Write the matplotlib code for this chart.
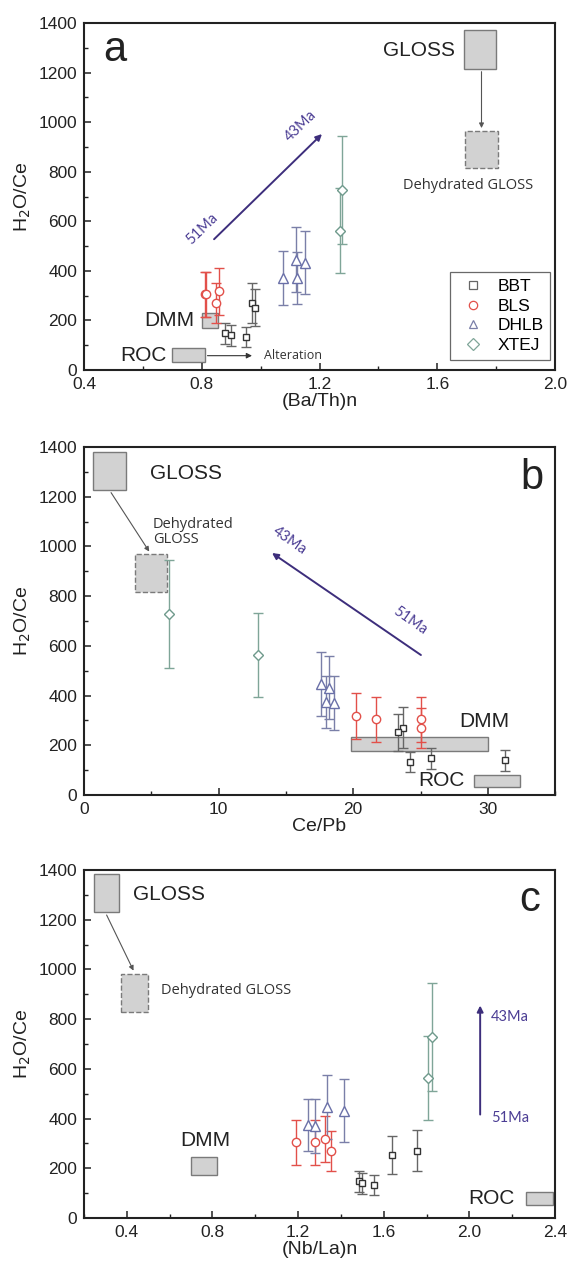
import numpy as np
import matplotlib
matplotlib.use("Agg")
import matplotlib.pyplot as plt
from matplotlib.patches import Rectangle
from matplotlib.lines import Line2D
from matplotlib.ticker import MultipleLocator

plt.rcParams['font.family'] = ['Liberation Sans', 'DejaVu Sans']

# sample groups: H2O/Ce with 1-sigma error and the three trace element ratios
bbt_h2o_ce = [148, 140, 134, 271, 252]
bbt_err = [43, 42, 40, 82, 76]
bbt_ba_th = [0.878, 0.90, 0.95, 0.97, 0.98]
bbt_ce_pb = [25.8, 31.3, 24.2, 23.7, 23.3]
bbt_nb_la = [1.484, 1.497, 1.553, 1.757, 1.636]

bls_h2o_ce = [305, 305, 318, 270]
bls_err = [90, 90, 94, 80]
bls_ba_th = [0.81, 0.815, 0.86, 0.85]
bls_ce_pb = [21.7, 25.0, 20.2, 25.0]
bls_nb_la = [1.19, 1.28, 1.325, 1.355]

dhlb_h2o_ce = [446, 432, 373, 371]
dhlb_err = [130, 127, 105, 108]
dhlb_ba_th = [1.12, 1.15, 1.125, 1.076]
dhlb_ce_pb = [17.6, 18.2, 18.0, 18.6]
dhlb_nb_la = [1.334, 1.412, 1.244, 1.279]

xtej_h2o_ce = [728, 563]
xtej_err = [218, 170]
xtej_ba_th = [1.275, 1.27]
xtej_ce_pb = [6.3, 12.9]
xtej_nb_la = [1.825, 1.805]

# reservoir fields (x0, x1, y0, y1)
fields_a = {'GLOSS': (1.69, 1.80, 1215, 1370), 'dGLOSS': (1.695, 1.805, 815, 965),
            'DMM': (0.80, 0.855, 168, 232), 'ROC': (0.70, 0.81, 33, 90)}
fields_b = {'GLOSS': (0.7, 3.1, 1228, 1380), 'dGLOSS': (3.8, 6.2, 816, 968),
            'DMM': (19.8, 30.0, 177, 232), 'ROC': (29.0, 32.4, 32, 82)}
fields_c = {'GLOSS': (0.245, 0.365, 1230, 1383), 'dGLOSS': (0.375, 0.50, 827, 982),
            'DMM': (0.70, 0.82, 173, 247), 'ROC': (2.265, 2.39, 54, 105)}

groups = [
    ('BBT', 's', '#333333', '#666666', 5, bbt_h2o_ce, bbt_err, bbt_ba_th, bbt_ce_pb, bbt_nb_la),
    ('BLS', 'o', '#e2504a', '#e2504a', 6, bls_h2o_ce, bls_err, bls_ba_th, bls_ce_pb, bls_nb_la),
    ('DHLB', '^', '#6a70a8', '#7a7fa8', 6.5, dhlb_h2o_ce, dhlb_err, dhlb_ba_th, dhlb_ce_pb, dhlb_nb_la),
    ('XTEJ', 'D', '#6f9a8c', '#7fa598', 5, xtej_h2o_ce, xtej_err, xtej_ba_th, xtej_ce_pb, xtej_nb_la),
]

purple = '#3d2e7c'
ma_font = ['Lato', 'DejaVu Sans']
small_font = ['Open Sans', 'DejaVu Sans']

fig = plt.figure(figsize=(5.69, 12.66), dpi=100)


def setup_axes(ax, xlim, xmajor, xminor, xlabel):
    ax.set_xlim(*xlim)
    ax.set_ylim(0, 1400)
    ax.xaxis.set_major_locator(MultipleLocator(xmajor))
    ax.xaxis.set_minor_locator(MultipleLocator(xminor))
    ax.yaxis.set_major_locator(MultipleLocator(200))
    ax.yaxis.set_minor_locator(MultipleLocator(100))
    ax.tick_params(which='major', direction='in', length=5, width=1.1, labelsize=12.5,
                   colors='#222222', pad=5)
    ax.tick_params(which='minor', direction='in', length=3, width=1.0, colors='#222222')
    for s in ax.spines.values():
        s.set_linewidth(1.5)
        s.set_color('#222222')
    ax.set_xlabel(xlabel, fontsize=14, labelpad=1, color='#222222')
    ax.set_ylabel('H$_2$O/Ce', fontsize=14, labelpad=4, color='#222222')


def draw_fields(ax, f):
    for key, (x0, x1, y0, y1) in f.items():
        ls = '--' if key == 'dGLOSS' else '-'
        ax.add_patch(Rectangle((x0, y0), x1 - x0, y1 - y0, facecolor='#d2d2d2',
                               edgecolor='#7a7a7a', lw=1.0, ls=ls, zorder=1))


def draw_samples(ax, col):
    for name, mk, c, ec, ms, y, err, *xs in groups:
        x = xs[col]
        ax.errorbar(x, y, yerr=err, fmt='none', ecolor=ec, elinewidth=1.0,
                    capsize=3.5, capthick=1.0, zorder=3)
        ax.plot(x, y, ls='none', marker=mk, ms=ms, mfc='white', mec=c, mew=1.0, zorder=4)


# panel a
ax = fig.add_axes([0.1476, 0.7077, 0.828, 0.2741])
setup_axes(ax, (0.4, 2.0), 0.4, 0.2, '(Ba/Th)n')
draw_fields(ax, fields_a)
draw_samples(ax, 0)
ax.text(0.505, 1290, 'a', fontsize=30, ha='center', va='center', color='#222222')
ax.text(1.66, 1290, 'GLOSS', fontsize=15, ha='right', va='center', color='#222222')
ax.annotate('', xy=(1.75, 965), xytext=(1.75, 1215),
            arrowprops=dict(arrowstyle='-|>', color='#555555', lw=0.8, mutation_scale=7))
ax.text(1.705, 745, 'Dehydrated GLOSS', fontsize=10.5, ha='center', va='center',
        color='#333333', family=small_font)
ax.text(0.775, 200, 'DMM', fontsize=15, ha='right', va='center', color='#222222')
ax.text(0.68, 60, 'ROC', fontsize=15, ha='right', va='center', color='#222222')
ax.annotate('', xy=(0.98, 58), xytext=(0.81, 58),
            arrowprops=dict(arrowstyle='-|>', color='#333333', lw=0.8, mutation_scale=8))
ax.text(1.01, 58, 'Alteration', fontsize=9, ha='left', va='center', color='#333333',
        family=small_font)
ax.annotate('', xy=(1.215, 960), xytext=(0.835, 520),
            arrowprops=dict(arrowstyle='-|>', color=purple, lw=1.4, mutation_scale=9))
ax.text(0.80, 570, '51Ma', fontsize=10.5, rotation=44, ha='center', va='center',
        color='#4b3d94', family=ma_font)
ax.text(1.135, 985, '43Ma', fontsize=10.5, rotation=44, ha='center', va='center',
        color='#4b3d94', family=ma_font)
handles = [Line2D([], [], ls='none', marker=g[1], ms=6, mfc='white', mec=g[3], mew=0.9)
           for g in groups]
leg = ax.legend(handles, [g[0] for g in groups], loc='lower right',
                bbox_to_anchor=(0.99, 0.03), fontsize=12.5, frameon=True,
                fancybox=False, edgecolor='#444444', handletextpad=0.5,
                labelspacing=0.25, borderpad=0.4, handlelength=1.8, borderaxespad=0)
leg.get_frame().set_linewidth(0.9)

# panel b
ax = fig.add_axes([0.1476, 0.3720, 0.828, 0.2749])
setup_axes(ax, (0, 35), 10, 5, 'Ce/Pb')
draw_fields(ax, fields_b)
draw_samples(ax, 1)
ax.text(33.3, 1275, 'b', fontsize=30, ha='center', va='center', color='#222222')
ax.text(4.9, 1295, 'GLOSS', fontsize=15, ha='left', va='center', color='#222222')
ax.annotate('', xy=(4.96, 970), xytext=(1.9, 1226),
            arrowprops=dict(arrowstyle='-|>', color='#555555', lw=0.8, mutation_scale=7))
ax.text(5.1, 1058, 'Dehydrated\nGLOSS', fontsize=10.5, ha='left', va='center',
        color='#333333', family=small_font, linespacing=1.0)
ax.text(31.6, 295, 'DMM', fontsize=15, ha='right', va='center', color='#222222')
ax.text(28.3, 57, 'ROC', fontsize=15, ha='right', va='center', color='#222222')
ax.annotate('', xy=(13.8, 980), xytext=(25.2, 557),
            arrowprops=dict(arrowstyle='-|>', color=purple, lw=1.4, mutation_scale=9))
ax.text(15.3, 1025, '43Ma', fontsize=10.5, rotation=-35, ha='center', va='center',
        color='#4b3d94', family=ma_font)
ax.text(24.2, 700, '51Ma', fontsize=10.5, rotation=-35, ha='center', va='center',
        color='#4b3d94', family=ma_font)

# panel c
ax = fig.add_axes([0.1476, 0.0379, 0.828, 0.2749])
setup_axes(ax, (0.2, 2.4), 0.4, 0.2, '(Nb/La)n')
draw_fields(ax, fields_c)
draw_samples(ax, 2)
ax.text(2.28, 1280, 'c', fontsize=30, ha='center', va='center', color='#222222')
ax.text(0.43, 1300, 'GLOSS', fontsize=15, ha='left', va='center', color='#222222')
ax.annotate('', xy=(0.437, 985), xytext=(0.30, 1229),
            arrowprops=dict(arrowstyle='-|>', color='#555555', lw=0.8, mutation_scale=7))
ax.text(0.56, 915, 'Dehydrated GLOSS', fontsize=10.5, ha='left', va='center',
        color='#333333', family=small_font)
ax.text(0.765, 310, 'DMM', fontsize=15, ha='center', va='center', color='#222222')
ax.text(2.21, 80, 'ROC', fontsize=15, ha='right', va='center', color='#222222')
ax.annotate('', xy=(2.05, 866), xytext=(2.05, 405),
            arrowprops=dict(arrowstyle='-|>', color=purple, lw=1.4, mutation_scale=9))
ax.text(2.10, 810, '43Ma', fontsize=10.5, ha='left', va='center', color='#4b3d94', family=ma_font)
ax.text(2.10, 402, '51Ma', fontsize=10.5, ha='left', va='center', color='#4b3d94', family=ma_font)

fig.savefig('out.png', dpi=100)
